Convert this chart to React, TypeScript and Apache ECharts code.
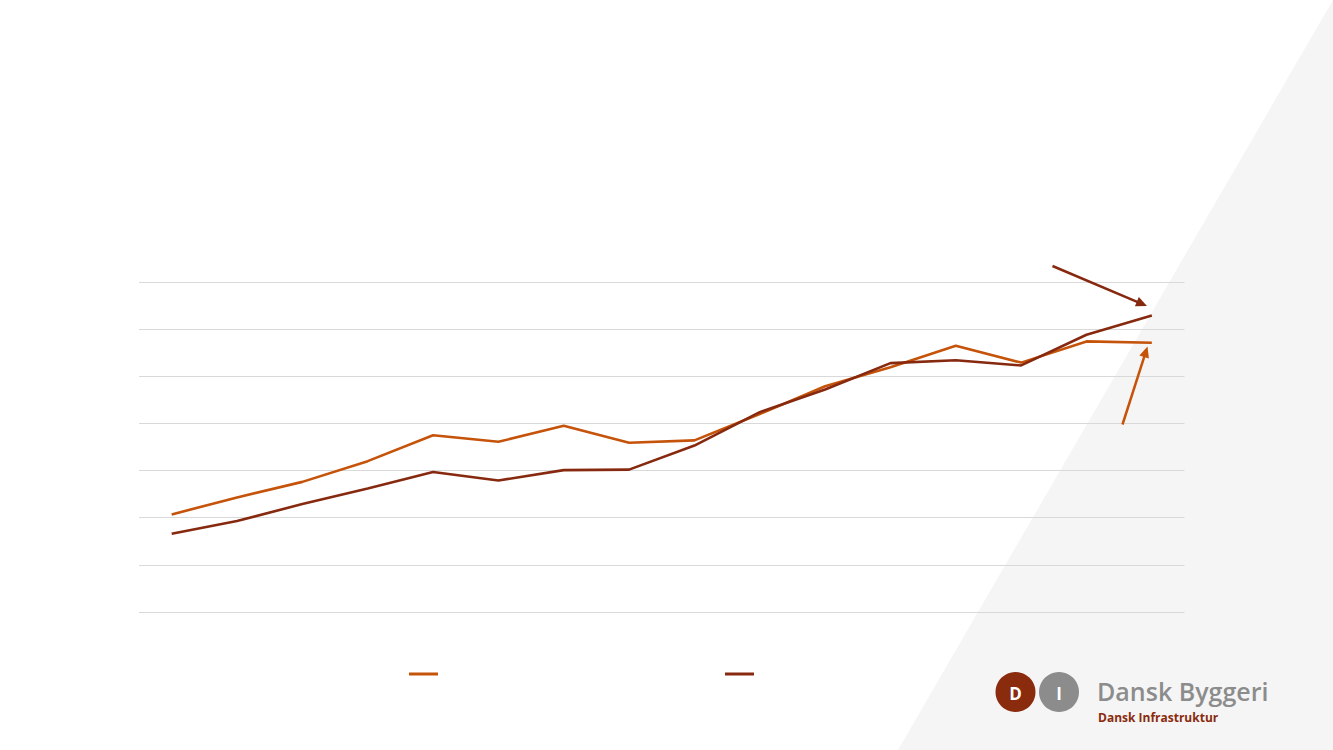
import React, { useEffect, useRef } from 'react';
import * as echarts from 'echarts';

// Periods (no axis labels are shown in the reference)
const categories = ['1', '2', '3', '4', '5', '6', '7', '8', '9', '10', '11', '12', '13', '14', '15', '16'];
// Series values
const seriesOrangeName = 'Serie 1';
const seriesDarkName = 'Serie 2';
const seriesOrange = [20.7, 24.3, 27.6, 32.0, 37.5, 36.1, 39.5, 35.9, 36.4, 42.0, 47.9, 51.9, 56.5, 52.9, 57.4, 57.1];
const seriesDark = [16.6, 19.3, 22.9, 26.2, 29.7, 27.9, 30.1, 30.2, 35.3, 42.4, 47.2, 52.8, 53.4, 52.3, 58.8, 62.9];
// Value axis
const yMin = 0;
const yMax = 70;
const yInterval = 10;

const ORANGE = '#C5530A';
const DARK = '#86290F';

function arrow(x1: number, y1: number, x2: number, y2: number, color: string) {
  const dx = x2 - x1;
  const dy = y2 - y1;
  const len = Math.sqrt(dx * dx + dy * dy);
  const ux = dx / len;
  const uy = dy / len;
  const head = 11;
  const half = 5;
  const bx = x2 - ux * head;
  const by = y2 - uy * head;
  const px = -uy;
  const py = ux;
  return [
    {
      type: 'line',
      silent: true,
      z: 100,
      shape: { x1, y1, x2: bx + ux * 1, y2: by + uy * 1 },
      style: { stroke: color, lineWidth: 2.5 },
    },
    {
      type: 'polygon',
      silent: true,
      z: 100,
      shape: {
        points: [
          [x2, y2],
          [bx + px * half, by + py * half],
          [bx - px * half, by - py * half],
        ],
      },
      style: { fill: color },
    },
  ];
}

export default function App() {
  const ref = useRef<HTMLDivElement>(null);

  useEffect(() => {
    if (!ref.current) return;
    const chart = echarts.init(ref.current, undefined, { renderer: 'svg' });
    chart.setOption({
      animation: false,
      backgroundColor: 'transparent',
      grid: { left: 139, top: 282, width: 1045.5, height: 330, containLabel: false },
      xAxis: {
        type: 'category',
        data: categories,
        boundaryGap: true,
        axisLine: { show: false },
        axisTick: { show: false },
        axisLabel: { show: false },
        splitLine: { show: false },
      },
      yAxis: {
        type: 'value',
        min: yMin,
        max: yMax,
        interval: yInterval,
        axisLine: { show: false },
        axisTick: { show: false },
        axisLabel: { show: false },
        splitLine: { show: true, lineStyle: { color: '#d9d9d9', width: 1 } },
      },
      legend: {
        data: [seriesOrangeName, seriesDarkName],
        left: 409,
        top: 672.5,
        padding: 0,
        itemWidth: 29,
        itemHeight: 3,
        itemGap: 287,
        icon: 'rect',
        formatter: () => '',
        selectedMode: false,
      },
      series: [
        {
          name: seriesOrangeName,
          type: 'line',
          data: seriesOrange,
          symbol: 'none',
          lineStyle: { color: ORANGE, width: 2.6 },
          itemStyle: { color: ORANGE },
          z: 3,
        },
        {
          name: seriesDarkName,
          type: 'line',
          data: seriesDark,
          symbol: 'none',
          lineStyle: { color: DARK, width: 2.6 },
          itemStyle: { color: DARK },
          z: 4,
        },
      ],
      graphic: [
        {
          type: 'polygon',
          silent: true,
          z: -10,
          shape: { points: [[1333, 0], [1333, 750], [898, 750]] },
          style: { fill: '#f5f5f5' },
        },
        ...arrow(1052.5, 266, 1147, 306, DARK),
        ...arrow(1122.5, 424.5, 1147.5, 346.5, ORANGE),
        {
          type: 'circle',
          silent: true,
          z: 100,
          shape: { cx: 1015.5, cy: 692, r: 20 },
          style: { fill: '#8A2B0E' },
        },
        {
          type: 'circle',
          silent: true,
          z: 100,
          shape: { cx: 1059, cy: 692, r: 20 },
          style: { fill: '#8c8c8c' },
        },
        {
          type: 'text',
          silent: true,
          z: 101,
          style: {
            text: 'D',
            x: 1015.5,
            y: 693,
            fill: '#ffffff',
            font: 'bold 17px "Open Sans", sans-serif',
            textAlign: 'center',
            textVerticalAlign: 'middle',
          },
        },
        {
          type: 'text',
          silent: true,
          z: 101,
          style: {
            text: 'I',
            x: 1059,
            y: 693,
            fill: '#ffffff',
            font: 'bold 17px "Open Sans", sans-serif',
            textAlign: 'center',
            textVerticalAlign: 'middle',
          },
        },
        {
          type: 'text',
          silent: true,
          z: 101,
          style: {
            text: 'Dansk Byggeri',
            x: 1097,
            y: 678,
            fill: '#8c8c8c',
            font: '600 25px "Open Sans", sans-serif',
            textAlign: 'left',
            textVerticalAlign: 'top',
          },
        },
        {
          type: 'text',
          silent: true,
          z: 101,
          style: {
            text: 'Dansk Infrastruktur',
            x: 1098,
            y: 711,
            fill: '#8A2B0E',
            font: 'bold 12px "Open Sans", sans-serif',
            textAlign: 'left',
            textVerticalAlign: 'top',
          },
        },
      ],
    });
    return () => chart.dispose();
  }, []);

  return (
    <div
      ref={ref}
      style={{ position: 'absolute', left: 0, top: 0, width: 1333, height: 750, background: '#ffffff' }}
    />
  );
}
